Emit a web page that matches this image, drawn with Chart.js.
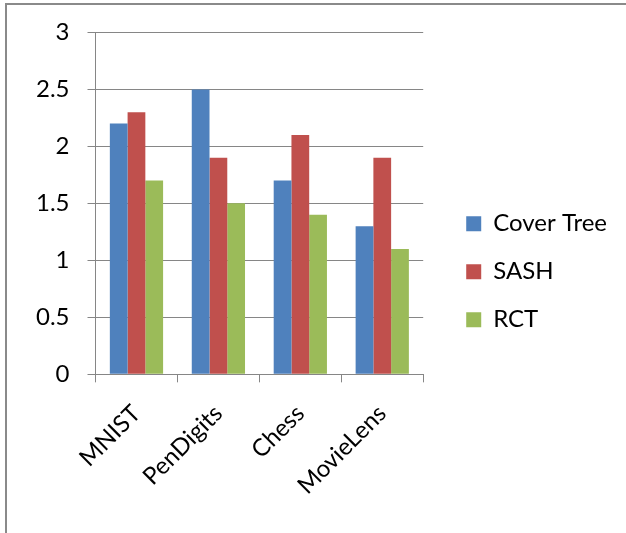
<!DOCTYPE html>
<html>
<head>
<meta charset="utf-8">
<script src="https://cdn.jsdelivr.net/npm/chart.js@4.4.1/dist/chart.umd.min.js"></script>
<style>
  html, body { margin: 0; padding: 0; background: #fff; }
  #wrap { width: 626px; height: 533px; position: relative; }
</style>
</head>
<body>
<div id="wrap"><canvas id="c" width="626" height="533"></canvas></div>
<script>
// Datasets and their search cost per method
const categories = ['MNIST', 'PenDigits', 'Chess', 'MovieLens'];
const seriesNames = ['Cover Tree', 'SASH', 'RCT'];
const coverTree = [2.2, 2.5, 1.7, 1.3];
const sash = [2.3, 1.9, 2.1, 1.9];
const rct = [1.7, 1.5, 1.4, 1.1];
const yTicks = [0, 0.5, 1, 1.5, 2, 2.5, 3];

const colors = ['#4F81BD', '#C0504D', '#9BBB59'];
const axisGray = '#868686';
const FONT = 'Lato';
const FONT_SIZE = 24;

// White page with the grey outer frame (top and left edges)
const framePlugin = {
  id: 'frame',
  beforeDraw(chart) {
    const ctx = chart.ctx;
    ctx.save();
    ctx.fillStyle = '#fff';
    ctx.fillRect(0, 0, chart.width, chart.height);
    ctx.fillStyle = '#8a8a8a';
    ctx.fillRect(5, 3, chart.width - 5, 2);
    ctx.fillRect(5, 3, 2, chart.height - 3);
    ctx.restore();
  }
};

new Chart(document.getElementById('c'), {
  type: 'bar',
  data: {
    labels: categories,
    datasets: [coverTree, sash, rct].map((vals, i) => ({
      label: seriesNames[i],
      data: vals,
      backgroundColor: colors[i],
      borderWidth: 0,
      categoryPercentage: 0.65,
      barPercentage: 1.0
    }))
  },
  options: {
    responsive: false,
    animation: false,
    devicePixelRatio: 1,
    layout: { padding: { left: 18, top: 24, right: 9, bottom: 16 } },
    plugins: {
      tooltip: { enabled: false },
      legend: {
        position: 'right',
        align: 'center',
        maxWidth: 240,
        title: { display: true, text: ' ', font: { size: 2 }, padding: 0 },
        labels: {
          boxWidth: 15,
          boxHeight: 15,
          padding: 24,
          color: '#000',
          font: { family: FONT, size: FONT_SIZE }
        }
      }
    },
    scales: {
      x: {
        offset: true,
        grid: {
          offset: true,
          drawOnChartArea: false,
          color: axisGray,
          tickLength: 8
        },
        border: { color: axisGray },
        ticks: {
          color: '#000',
          font: { family: FONT, size: FONT_SIZE },
          minRotation: 45,
          maxRotation: 45,
          padding: 17
        }
      },
      y: {
        min: 0,
        max: 3,
        afterBuildTicks(scale) { scale.ticks = yTicks.map(v => ({ value: v })); },
        grid: { color: axisGray, tickLength: 8 },
        border: { color: axisGray },
        ticks: {
          color: '#000',
          font: { family: FONT, size: FONT_SIZE },
          padding: 18,
          callback: v => String(v)
        }
      },
      gap: {
        type: 'linear',
        position: 'right',
        display: true,
        grid: { display: false, drawTicks: false },
        border: { display: false },
        ticks: { display: false },
        afterFit(scale) { scale.width = 19; }
      }
    }
  },
  plugins: [framePlugin]
});
</script>
</body>
</html>
